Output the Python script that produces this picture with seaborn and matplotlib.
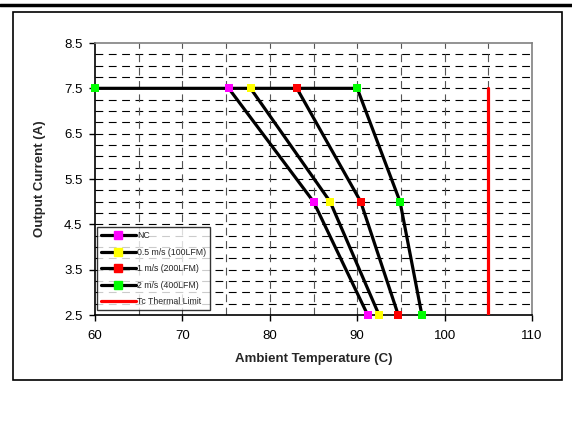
import matplotlib
matplotlib.use("Agg")
import matplotlib.pyplot as plt
import seaborn as sns
import pandas as pd
import numpy as np
from matplotlib.lines import Line2D
from matplotlib.patches import Rectangle

# derating curves
series_names = ["NC", "0.5 m/s (100LFM)", "1 m/s (200LFM)", "2 m/s (400LFM)"]
marker_colors = ["#ff00ff", "#ffff00", "#ff0000", "#00ff00"]
temps = [
    [75.3, 85.0, 91.2],
    [77.8, 86.9, 92.5],
    [83.1, 90.4, 94.7],
    [60.0, 90.0, 94.9, 97.4],
]
currents = [
    [7.5, 5.0, 2.5],
    [7.5, 5.0, 2.5],
    [7.5, 5.0, 2.5],
    [7.5, 7.5, 5.0, 2.5],
]
limit_temp = [105, 105]
limit_current = [2.5, 7.5]

sns.set_theme(style="white")
plt.rcParams["font.family"] = ["Liberation Sans", "DejaVu Sans"]

fig = plt.figure(figsize=(5.72, 4.47), dpi=100)
ax = fig.add_axes([95 / 572, 1 - 315 / 447, 437 / 572, 272 / 447])

# gridlines
for yv in np.arange(2.75, 8.5, 0.25):
    ax.axhline(yv, color="black", lw=0.8, ls=(0, (7, 5)), zorder=1)
for xv in np.arange(65, 110, 5):
    ax.axvline(xv, color="#555555", lw=0.8, ls=(0, (7, 5)), zorder=1)

for name, c, t, cur in zip(series_names, marker_colors, temps, currents):
    df = pd.DataFrame({"temp": t, "current": cur})
    sns.lineplot(data=df, x="temp", y="current", ax=ax, color="black", lw=2.3,
                 estimator=None, sort=False, zorder=3)
    sns.scatterplot(data=df, x="temp", y="current", ax=ax, color=c, marker="s",
                    s=30, linewidth=0, zorder=4, clip_on=False)

lim = pd.DataFrame({"temp": limit_temp, "current": limit_current})
sns.lineplot(data=lim, x="temp", y="current", ax=ax, color="#ff0000", lw=2.3,
             estimator=None, sort=False, zorder=3)

ax.set_xlim(60, 110)
ax.set_ylim(2.5, 8.5)
ax.set_xticks([60, 70, 80, 90, 100, 110])
ax.set_yticks([2.5, 3.5, 4.5, 5.5, 6.5, 7.5, 8.5])
ax.set_yticklabels(["2.5", "3.5", "4.5", "5.5", "6.5", "7.5", "8.5"])
ax.tick_params(axis="both", which="major", direction="out", length=4, width=1,
               labelsize=9.5, colors="black", left=True, bottom=True)
ax.tick_params(axis="y", pad=5)
ax.tick_params(axis="x", pad=7)
for side in ["left", "bottom"]:
    ax.spines[side].set_color("black")
    ax.spines[side].set_linewidth(1.2)
for side in ["top", "right"]:
    ax.spines[side].set_color("#808080")
    ax.spines[side].set_linewidth(1.2)

ax.set_xlabel("Ambient Temperature (C)", fontsize=9.5, fontweight="bold", labelpad=8)
ax.set_ylabel("Output Current (A)", fontsize=9.5, fontweight="bold", labelpad=13)

handles = [Line2D([0], [0], color="black", lw=2.3, marker="s", markersize=5.5,
                  markerfacecolor=c, markeredgecolor=c)
           for c in marker_colors]
handles.append(Line2D([0], [0], color="#ff0000", lw=2.3))
leg = ax.legend(handles, series_names + ["Tc Thermal Limit"], loc="lower left",
                bbox_to_anchor=(0.004, 0.018), fontsize=6.3, frameon=True,
                fancybox=False, handlelength=4.0, handletextpad=0.2,
                borderpad=0.45, labelspacing=0.85, borderaxespad=0)
leg.get_frame().set_edgecolor("black")
leg.get_frame().set_linewidth(1.0)
leg.set_zorder(5)

# outer frame and top rule
fig.add_artist(Rectangle((13 / 572, 1 - 380 / 447), 549 / 572, 368 / 447,
                         transform=fig.transFigure, fill=False,
                         edgecolor="black", lw=1.2))
fig.add_artist(Line2D([0, 1], [1 - 5 / 447, 1 - 5 / 447],
                      transform=fig.transFigure, color="black", lw=2.5))

fig.savefig("out.png", dpi=100)
